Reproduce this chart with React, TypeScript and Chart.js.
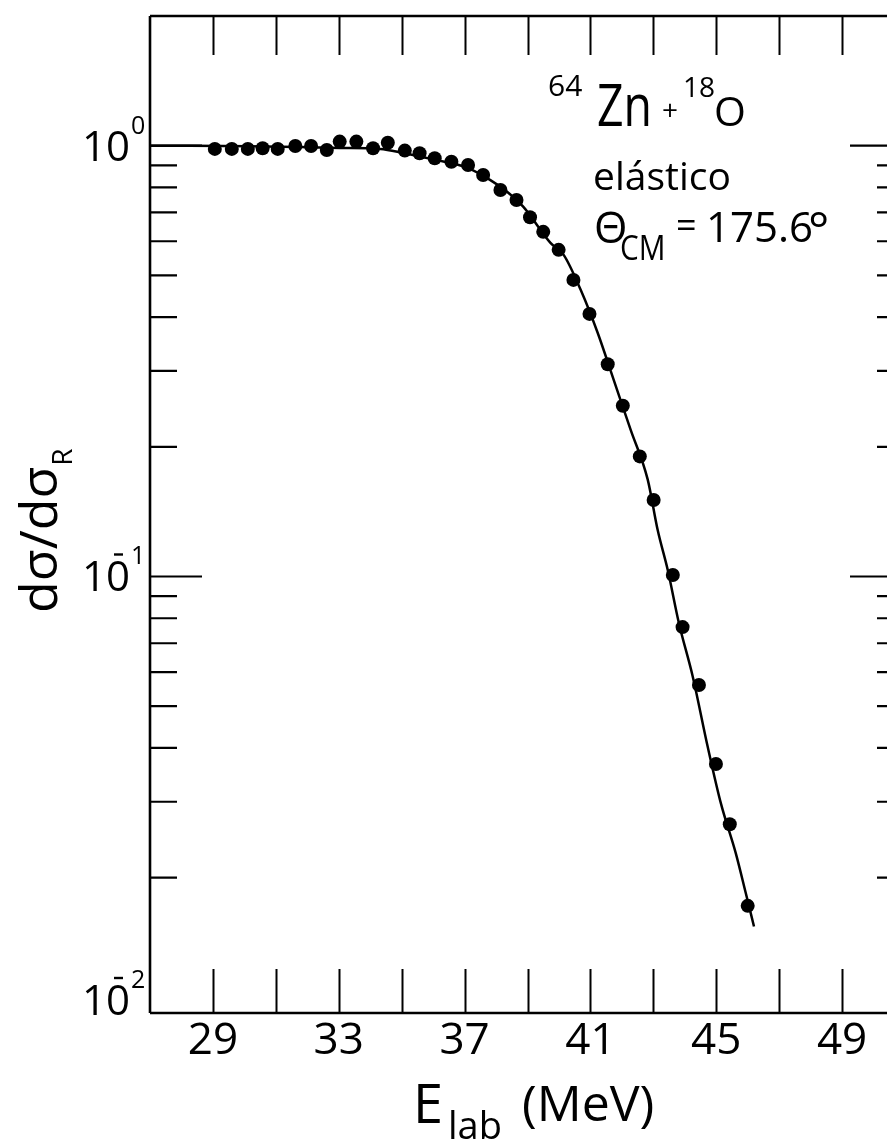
import React, { useEffect, useRef } from "react";
import { Chart, registerables } from "chart.js";

Chart.register(...registerables);

// Measured elastic cross-section ratio (points)
const energies = [29.06, 29.6, 30.11, 30.58, 31.06, 31.62, 32.12, 32.62, 33.03, 33.56, 34.09, 34.56, 35.1, 35.57, 36.05, 36.58, 37.11, 37.59, 38.14, 38.65, 39.08, 39.5, 39.99, 40.46, 40.97, 41.55, 42.03, 42.57, 43.01, 43.62, 43.93, 44.45, 44.99, 45.43, 46.0];
const ratios = [0.983, 0.983, 0.983, 0.986, 0.983, 0.998, 0.998, 0.977, 1.022, 1.022, 0.986, 1.016, 0.974, 0.96, 0.935, 0.918, 0.902, 0.855, 0.789, 0.748, 0.682, 0.631, 0.573, 0.488, 0.407, 0.311, 0.249, 0.19, 0.1505, 0.1008, 0.0763, 0.056, 0.0367, 0.0266, 0.0172];

// Theoretical curve
const fitEnergies = [27.0, 28.27, 31.77, 33.04, 34.32, 35.05, 36.07, 37.09, 37.82, 38.36, 38.87, 39.73, 40.15, 40.69, 41.23, 41.74, 42.28, 42.82, 43.14, 43.46, 43.81, 44.25, 44.73, 45.15, 45.62, 45.94, 46.2];
const fitRatios = [1.0, 1.0, 0.993, 0.988, 0.983, 0.962, 0.927, 0.888, 0.832, 0.781, 0.721, 0.595, 0.558, 0.463, 0.368, 0.286, 0.219, 0.168, 0.128, 0.1034, 0.0781, 0.0587, 0.0402, 0.0297, 0.0228, 0.0184, 0.0154];

// Axes
const xMin = 27;
const xMax = 51;
const yMin = 0.0097;
const yMax = 2.0;
const xTickValues = [29, 31, 33, 35, 37, 39, 41, 43, 45, 47, 49, 51];
const xLabelValues = [29, 33, 37, 41, 45, 49];
const yMajorValues = [1, 0.1];
const yMinorValues = [0.9, 0.8, 0.7, 0.6, 0.5, 0.4, 0.3, 0.2, 0.09, 0.08, 0.07, 0.06, 0.05, 0.04, 0.03, 0.02];
const yLabelValues = [1, 0.1, 0.01];
const yLabelExponents = ["0", "1", "2"];
const yLabelNegative = [false, true, true];

const FONT = '"Open Sans", "Liberation Sans", sans-serif';

const W = 930;
const H = 1139;

const axesPlugin = {
  id: "physAxes",
  afterDatasetsDraw(chart: any) {
    const ctx: CanvasRenderingContext2D = chart.ctx;
    const { left, right, top, bottom } = chart.chartArea;
    const xs = chart.scales.x;
    const ys = chart.scales.y;
    ctx.save();
    ctx.strokeStyle = "#000";
    ctx.fillStyle = "#000";
    ctx.lineCap = "butt";

    // frame
    ctx.lineWidth = 2.6;
    ctx.beginPath();
    ctx.moveTo(left, top);
    ctx.lineTo(right, top);
    ctx.moveTo(left, bottom);
    ctx.lineTo(right, bottom);
    ctx.moveTo(left, top);
    ctx.lineTo(left, bottom);
    ctx.moveTo(right, top);
    ctx.lineTo(right, bottom);
    ctx.stroke();

    // x ticks (inward, bottom and top)
    ctx.lineWidth = 2;
    ctx.beginPath();
    xTickValues.forEach((v) => {
      const px = Math.round(xs.getPixelForValue(v)) + 0.5;
      ctx.moveTo(px, bottom);
      ctx.lineTo(px, bottom - 44);
      ctx.moveTo(px, top);
      ctx.lineTo(px, top + 39);
    });
    ctx.stroke();

    // y ticks (inward, left and right)
    ctx.lineWidth = 2.2;
    ctx.beginPath();
    yMajorValues.forEach((v) => {
      const py = ys.getPixelForValue(v);
      ctx.moveTo(left, py);
      ctx.lineTo(left + 52, py);
      ctx.moveTo(right, py);
      ctx.lineTo(right - 55, py);
    });
    yMinorValues.forEach((v) => {
      const py = ys.getPixelForValue(v);
      ctx.moveTo(left, py);
      ctx.lineTo(left + 27, py);
      ctx.moveTo(right, py);
      ctx.lineTo(right - 28, py);
    });
    ctx.stroke();

    // x tick labels
    ctx.font = `44px ${FONT}`;
    ctx.textAlign = "center";
    ctx.textBaseline = "alphabetic";
    xLabelValues.forEach((v) => {
      ctx.fillText(String(v), xs.getPixelForValue(v), bottom + 41);
    });

    // y tick labels: 10 with exponent
    yLabelValues.forEach((v, i) => {
      const py = ys.getPixelForValue(v);
      const base = Math.min(py + 15, bottom + 2);
      const rx = left - 20;
      ctx.font = `42px ${FONT}`;
      ctx.textAlign = "right";
      ctx.fillText("10", rx, base);
      ctx.font = `25px ${FONT}`;
      ctx.textAlign = "left";
      ctx.fillText(yLabelExponents[i], rx + 1, base - 27);
      if (yLabelNegative[i]) {
        ctx.lineWidth = 2.4;
        ctx.beginPath();
        ctx.moveTo(rx - 16, base - 37);
        ctx.lineTo(rx - 7, base - 37);
        ctx.stroke();
      }
    });

    // y axis title (rotated)
    ctx.save();
    ctx.translate(49, 605);
    ctx.rotate(-Math.PI / 2);
    ctx.textAlign = "left";
    ctx.font = `52px ${FONT}`;
    ctx.fillText("dσ/dσ", 0, 0);
    const tw = ctx.measureText("dσ/dσ").width;
    ctx.font = `28px ${FONT}`;
    ctx.fillText("R", tw + 1, 15);
    ctx.restore();

    // x axis title
    ctx.textAlign = "left";
    ctx.font = `54px ${FONT}`;
    ctx.fillText("E", 405, 1115);
    ctx.font = `38px ${FONT}`;
    ctx.fillText("lab", 440, 1131);
    ctx.font = `50px ${FONT}`;
    ctx.fillText("(MeV)", 514, 1113);

    // annotations
    ctx.font = `30px ${FONT}`;
    ctx.fillText("64", 540, 88);
    ctx.save();
    ctx.translate(589, 118);
    ctx.scale(0.8, 1);
    ctx.font = `58px ${FONT}`;
    ctx.fillText("Zn", 0, 0);
    ctx.restore();
    ctx.font = `28px ${FONT}`;
    ctx.fillText("+", 654, 112);
    ctx.fillText("18", 675, 89);
    ctx.font = `41px ${FONT}`;
    ctx.fillText("O", 706, 118);
    ctx.font = `39px ${FONT}`;
    ctx.fillText("elástico", 585, 182);
    ctx.font = `43px ${FONT}`;
    ctx.fillText("Θ", 586, 235);
    ctx.save();
    ctx.translate(612, 252);
    ctx.scale(0.85, 1);
    ctx.font = `35px ${FONT}`;
    ctx.fillText("CM", 0, 0);
    ctx.restore();
    ctx.font = `36px ${FONT}`;
    ctx.fillText("=", 668, 230);
    ctx.font = `42px ${FONT}`;
    ctx.fillText("175.6", 698, 234);
    ctx.font = `50px ${FONT}`;
    ctx.fillText("°", 800, 240);

    ctx.restore();
  },
};

export default function App() {
  const canvasRef = useRef<HTMLCanvasElement | null>(null);

  useEffect(() => {
    document.documentElement.style.overflow = "hidden";
    document.body.style.overflow = "hidden";
    const canvas = canvasRef.current;
    if (!canvas) return;
    const chart = new Chart(canvas, {
      type: "scatter",
      data: {
        datasets: [
          {
            label: "data",
            data: energies.map((e, i) => ({ x: e, y: ratios[i] })),
            showLine: false,
            pointRadius: 7,
            pointHoverRadius: 7,
            pointBackgroundColor: "#000",
            pointBorderWidth: 0,
            borderColor: "#000",
            order: 0,
          },
          {
            label: "fit",
            data: fitEnergies.map((e, i) => ({ x: e, y: fitRatios[i] })),
            showLine: true,
            pointRadius: 0,
            borderColor: "#000",
            borderWidth: 2.5,
            cubicInterpolationMode: "monotone",
            order: 1,
          },
        ],
      },
      options: {
        responsive: false,
        devicePixelRatio: 1,
        animation: false,
        events: [],
        layout: { padding: { left: 142, top: 8, right: W - 897, bottom: H - 1005 } },
        plugins: {
          legend: { display: false },
          tooltip: { enabled: false },
          title: { display: false },
        },
        scales: {
          x: { type: "linear", min: xMin, max: xMax, display: false },
          y: { type: "logarithmic", min: yMin, max: yMax, display: false },
        },
      },
      plugins: [axesPlugin],
    });
    return () => chart.destroy();
  }, []);

  return (
    <div style={{ position: "relative", width: 887, height: H, overflow: "hidden", background: "#fff" }}>
      <canvas ref={canvasRef} width={W} height={H} style={{ display: "block" }} />
    </div>
  );
}
